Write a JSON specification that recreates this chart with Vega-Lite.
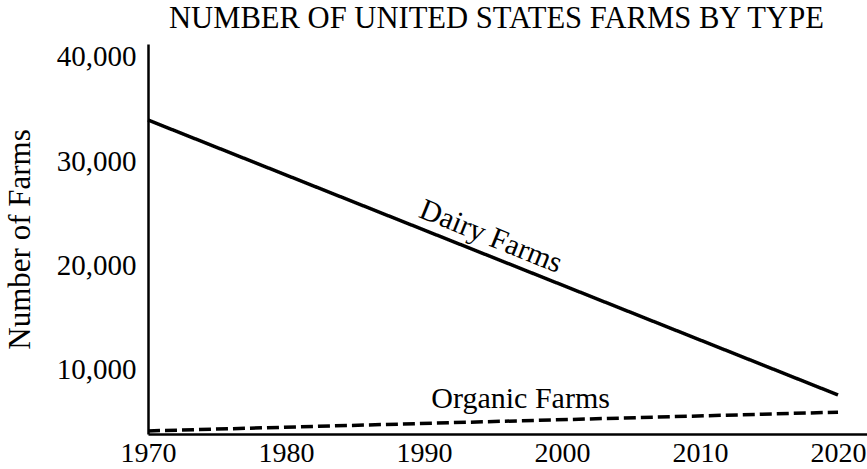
{
  "$schema": "https://vega.github.io/schema/vega-lite/v6.json",
  "width": 719,
  "height": 390,
  "autosize": {"type": "none"},
  "padding": {"left": 148, "top": 44, "right": 0, "bottom": 35},
  "background": "white",
  "view": {"stroke": null},
  "config": {"font": "Liberation Serif"},
  "title": {
    "text": "NUMBER OF UNITED STATES FARMS BY TYPE",
    "font": "Liberation Serif",
    "fontSize": 30.6,
    "fontWeight": "normal",
    "color": "black",
    "anchor": "start",
    "frame": "group",
    "dx": 21,
    "offset": 8
  },
  "datasets": {
    "lines": [
      {"series": "Dairy Farms", "year": 1970, "value": 33960},
      {"series": "Dairy Farms", "year": 2020, "value": 7600},
      {"series": "Organic Farms", "year": 1970, "value": 4150},
      {"series": "Organic Farms", "year": 2020, "value": 5950}
    ],
    "labels": [
      {"label": "Dairy Farms", "year": 1994.6, "value": 21976},
      {"label": "Organic Farms", "year": 1997.0, "value": 6350}
    ]
  },
  "encoding": {
    "x": {
      "field": "year",
      "type": "quantitative",
      "scale": {"domain": [1970, 2022.1], "nice": false, "zero": false},
      "axis": {
        "title": null,
        "values": [1970, 1980, 1990, 2000, 2010, 2020],
        "format": "d",
        "grid": false,
        "ticks": false,
        "domainWidth": 2.5,
        "domainColor": "black",
        "labelFont": "Liberation Serif",
        "labelFontSize": 28,
        "labelColor": "black",
        "labelPadding": 5,
        "labelFlush": false,
        "labelOverlap": false,
        "labelBound": false
      }
    },
    "y": {
      "field": "value",
      "type": "quantitative",
      "scale": {"domain": [3857, 41246], "nice": false, "zero": false},
      "axis": {
        "title": "Number of Farms",
        "titleFont": "Liberation Serif",
        "titleFontSize": 31,
        "titleFontWeight": "normal",
        "titleColor": "black",
        "titlePadding": 20,
        "values": [10000, 20000, 30000, 40000],
        "format": ",d",
        "grid": false,
        "ticks": false,
        "domainWidth": 2.5,
        "domainColor": "black",
        "labelFont": "Liberation Serif",
        "labelFontSize": 29,
        "labelColor": "black",
        "labelPadding": 12
      }
    }
  },
  "layer": [
    {
      "data": {"name": "lines"},
      "mark": {"type": "line", "color": "black", "strokeWidth": 3.5},
      "encoding": {
        "detail": {"field": "series", "type": "nominal"},
        "strokeDash": {
          "field": "series",
          "type": "nominal",
          "scale": {"domain": ["Dairy Farms", "Organic Farms"], "range": [[1, 0], [12, 5]]},
          "legend": null
        }
      }
    },
    {
      "data": {"name": "labels"},
      "transform": [{"filter": "datum.label === 'Dairy Farms'"}],
      "mark": {"type": "text", "font": "Liberation Serif", "fontSize": 30, "color": "black", "angle": 22, "align": "center", "baseline": "alphabetic"},
      "encoding": {"text": {"field": "label"}}
    },
    {
      "data": {"name": "labels"},
      "transform": [{"filter": "datum.label === 'Organic Farms'"}],
      "mark": {"type": "text", "font": "Liberation Serif", "fontSize": 30, "color": "black", "angle": 0, "align": "center", "baseline": "alphabetic"},
      "encoding": {"text": {"field": "label"}}
    }
  ]
}
